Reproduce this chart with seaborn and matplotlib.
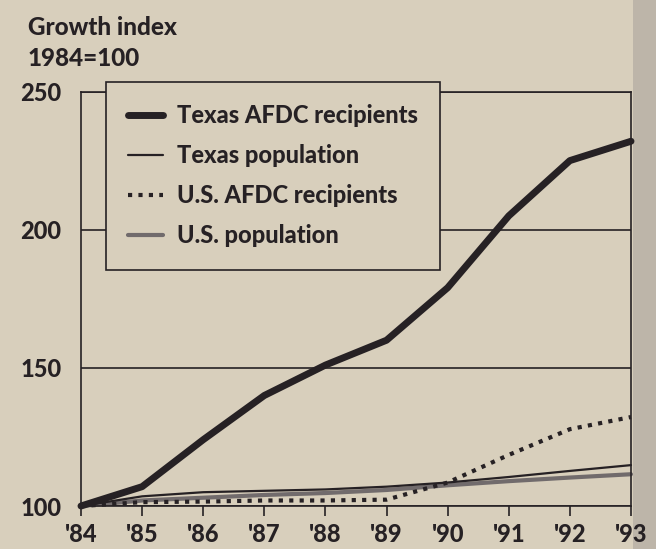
import os
import matplotlib
matplotlib.use("Agg")
import matplotlib.pyplot as plt
import seaborn as sns
from matplotlib.patches import Rectangle
from matplotlib import font_manager

# data (growth index, 1984 = 100)
years = ["'84", "'85", "'86", "'87", "'88", "'89", "'90", "'91", "'92", "'93"]
tx_afdc = [100, 107, 124, 140, 151, 160, 179, 205, 225, 232]
tx_pop = [100, 103.5, 105, 105.5, 106, 107, 108.5, 110.5, 112.7, 114.8]
us_afdc = [100, 101.4, 101.6, 102, 102, 102.3, 108.5, 118.5, 127.8, 132.2]
us_pop = [100, 102, 103, 104, 104.7, 105.8, 107.5, 109, 110.3, 111.5]
yticks = [100, 150, 200, 250]

bg = '#d8cfbc'
ink = '#262124'

# find a heavy font file by name (family lookup does not pick the bold face)
files = [f.fname for f in font_manager.fontManager.ttflist]
bold_file = None
for key in ['lato-heavy.', 'lato-extrabold.', 'lato-bold.', 'roboto-bold.',
            'opensans-bold.', 'notosans-bold.', 'dejavusans-bold.']:
    hits = sorted(p for p in files if os.path.basename(p).lower().startswith(key))
    if hits:
        bold_file = hits[0]
        break

sns.set_style("white")

def bold(size):
    return font_manager.FontProperties(fname=bold_file, size=size)

fig = plt.figure(figsize=(6.56, 5.49), dpi=100)
fig.patch.set_facecolor(bg)
# halftone strip at the right edge
fig.patches.append(Rectangle((633/656, 0), 1 - 633/656, 1, transform=fig.transFigure,
                             facecolor='#bdb5a9', edgecolor='none', zorder=-1))

ax = fig.add_axes([81/656, 0.0783, 0.8384, 0.755])
ax.set_facecolor(bg)

x = list(range(len(years)))
sns.lineplot(x=x, y=tx_afdc, ax=ax, color=ink, lw=5, solid_capstyle='round',
             label='Texas AFDC recipients', clip_on=False, zorder=5)
sns.lineplot(x=x, y=tx_pop, ax=ax, color=ink, lw=1.6,
             label='Texas population', clip_on=False, zorder=4)
sns.lineplot(x=x, y=us_afdc, ax=ax, color=ink, lw=3, linestyle=(0, (1, 1.5)),
             dash_capstyle='butt', label='U.S. AFDC recipients', clip_on=False, zorder=3)
sns.lineplot(x=x, y=us_pop, ax=ax, color='#716b6c', lw=3,
             label='U.S. population', clip_on=False, zorder=2)

ax.set_xlim(0, 9)
ax.set_ylim(100, 250)
ax.set_xticks(x)
ax.set_xticklabels(years, fontproperties=bold(17))
ax.set_yticks(yticks)
ax.set_yticklabels([str(v) for v in yticks], fontproperties=bold(17))
ax.tick_params(axis='x', length=7, width=1.2, color=ink, direction='out', pad=5,
               labelcolor=ink, bottom=True)
ax.tick_params(axis='y', length=0, pad=14, labelcolor=ink)
ax.grid(axis='y', color=ink, lw=1.2)
ax.grid(axis='x', visible=False)
for s in ax.spines.values():
    s.set_visible(True)
    s.set_color(ink)
    s.set_linewidth(1.2)
ax.set_xlabel('')
ax.set_ylabel('')

leg = ax.legend(loc='upper left', bbox_to_anchor=(106/656, 1 - 82/549),
                bbox_transform=fig.transFigure, borderaxespad=0,
                prop=bold(17),
                handlelength=1.45, handletextpad=0.6, labelspacing=0.72,
                borderpad=0.95, fancybox=False, framealpha=1, facecolor=bg,
                edgecolor=ink)
leg.get_frame().set_linewidth(1.2)
for t in leg.get_texts():
    t.set_color(ink)

fig.text(28/656, 1 - 35/549, 'Growth index', fontproperties=bold(17.5), color=ink, va='baseline')
fig.text(28/656, 1 - 66/549, '1984=100', fontproperties=bold(17.5), color=ink, va='baseline')

fig.savefig('out.png', dpi=100, facecolor=bg)
